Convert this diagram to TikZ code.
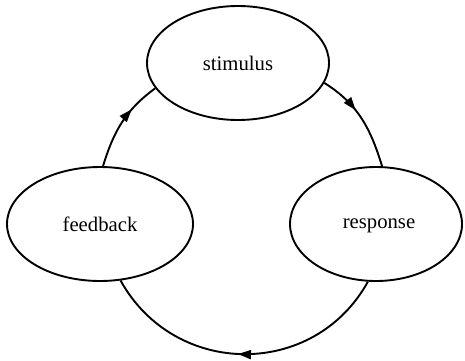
\documentclass[tikz,border=0pt]{standalone}
\usepackage{fontspec}
\setmainfont{Liberation Serif}
\usetikzlibrary{shapes.geometric,arrows.meta,decorations.markings}
\begin{document}
\begin{tikzpicture}[x=1pt,y=1pt,
  state/.style={draw, ellipse, line width=1.9pt, inner sep=0pt,
    font=\fontsize{20.7}{24}\selectfont},
  flow/.style={line width=1.9pt, postaction={decorate},
    decoration={markings, mark=at position #1 with
      {\arrow{Triangle[length=13pt,width=9pt]}}}}
]
\useasboundingbox (0,0) rectangle (465,360);

% the three states of the loop
\node[state, minimum width=182pt, minimum height=114pt] (stim) at (238,297) {stimulus};
\node[state, minimum width=186pt, minimum height=114pt] (feed) at (100,136) {feedback};
\node[state, minimum width=172pt, minimum height=114pt, text height=14pt] (resp) at (376,136) {\hspace{6pt}response};

% curved transitions, clockwise around the cycle
\draw[flow=0.4]  (stim.-13) to[out=-32, in=107] (resp.84);
\draw[flow=0.52] (resp.262) to[out=241, in=-61, looseness=1.15] (feed.290);
\draw[flow=0.67] (feed.87)  to[out=73, in=216] (stim.197);
\end{tikzpicture}
\end{document}
